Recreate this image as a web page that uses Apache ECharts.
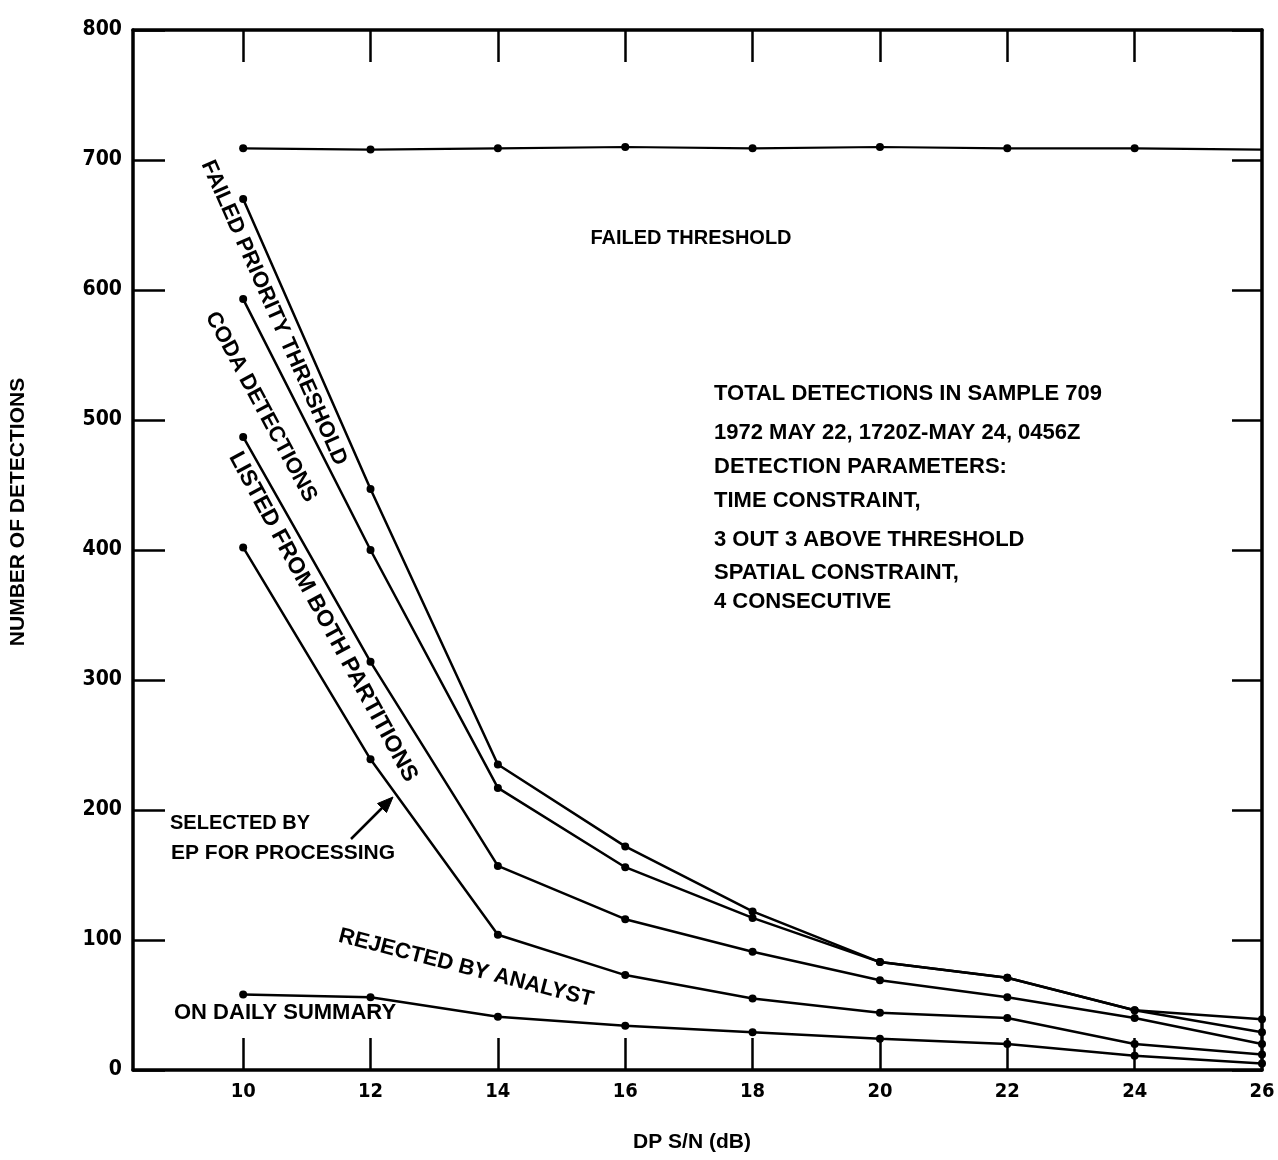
<!DOCTYPE html>
<html>
<head>
<meta charset="utf-8">
<script src="https://cdn.jsdelivr.net/npm/echarts@6/dist/echarts.min.js"></script>
<style>
html,body{margin:0;padding:0;background:#fff;}
#chart{width:1278px;height:1160px;}
</style>
</head>
<body>
<div id="chart"></div>
<script>
// ---- data ----
const snr = [10, 12, 14, 16, 18, 20, 22, 24, 26];
const xTickValues = [10, 12, 14, 16, 18, 20, 22, 24, 26];
const yTickLabels = ['0', '100', '200', '300', '400', '500', '600', '700', '800'];
const failedThreshold = [709, 708, 709, 710, 709, 710, 709, 709, 708];
const failedPriority  = [670, 447, 235, 172, 122, 83, 71, 46, 39];
const codaDetections  = [593, 400, 217, 156, 117, 83, 71, 46, 29];
const listedBoth      = [487, 314, 157, 116, 91, 69, 56, 40, 20];
const selectedByEP    = [402, 239, 104, 73, 55, 44, 40, 20, 12];
const dailySummary    = [58, 56, 41, 34, 29, 24, 20, 11, 5];

const noteLines = [
  'TOTAL DETECTIONS IN SAMPLE 709',
  '1972 MAY 22, 1720Z-MAY 24, 0456Z',
  'DETECTION PARAMETERS:',
  'TIME CONSTRAINT,',
  '3 OUT 3 ABOVE THRESHOLD',
  'SPATIAL CONSTRAINT,',
  '4 CONSECUTIVE'
];

const TXT = '"Liberation Sans", Arial, sans-serif';
const NARROW = '"Liberation Sans Narrow", "DejaVu Sans Condensed", "Liberation Sans", sans-serif';

function pairs(ys) { return snr.map((x, i) => [x, ys[i]]); }

function lineSeries(name, ys, opts) {
  return Object.assign({
    name: name,
    type: 'line',
    data: pairs(ys),
    symbol: 'circle',
    symbolSize: 8,
    clip: false,
    animation: false,
    lineStyle: { color: '#000', width: 2.5 },
    itemStyle: { color: '#000' },
    emphasis: { disabled: true }
  }, opts || {});
}

const chart = echarts.init(document.getElementById('chart'), null, { renderer: 'canvas' });

const xMin = 8.27, xMax = 26;
const tickInner = xTickValues.filter(v => v < xMax);

const axisLineStyle = { color: '#000', width: 3.5 };
const tickStyle = { color: '#000', width: 2.5 };

const topData = pairs(failedThreshold).map((p, i) =>
  i === snr.length - 1 ? { value: p, symbol: 'none' } : p);

const texts = [];
function addText(t, x, y, size, rotDeg, align) {
  texts.push({
    type: 'text',
    x: x, y: y,
    rotation: (rotDeg || 0) * Math.PI / 180,
    silent: true,
    style: {
      text: t,
      font: 'bold ' + size + 'px ' + TXT,
      fill: '#000',
      align: align || 'center',
      verticalAlign: 'middle'
    }
  });
}

addText('FAILED THRESHOLD', 691, 238, 20);
addText('FAILED PRIORITY THRESHOLD', 274, 313, 22, -66.1);
addText('CODA DETECTIONS', 261, 407, 22, -61.7);
addText('LISTED FROM BOTH PARTITIONS', 323, 617, 23, -61.5);
addText('SELECTED BY', 170, 823, 20, 0, 'left');
addText('EP FOR PROCESSING', 171, 853, 21, 0, 'left');
addText('REJECTED BY ANALYST', 466, 968, 22, -14.3);
addText('ON DAILY SUMMARY', 174, 1013, 22, 0, 'left');
addText('NUMBER OF DETECTIONS', 18, 512, 21, 90);
addText('DP S/N (dB)', 692, 1142, 21);

const noteY = [394, 433, 467, 501, 540, 573, 602];
noteLines.forEach((t, i) => addText(t, 714, noteY[i], 22, 0, 'left'));

// arrow pointing to the "selected" curve
texts.push({
  type: 'line', silent: true,
  shape: { x1: 351, y1: 839, x2: 384, y2: 806 },
  style: { stroke: '#000', lineWidth: 2.5 }
});
texts.push({
  type: 'polygon', silent: true,
  shape: { points: [[393, 797], [386.5, 812.5], [377.5, 803.5]] },
  style: { fill: '#000', stroke: '#000', lineWidth: 1 }
});

const option = {
  backgroundColor: '#fff',
  animation: false,
  grid: { left: 133, right: 16, top: 30, bottom: 90 },
  xAxis: [
    {
      type: 'value', position: 'bottom', min: xMin, max: xMax,
      axisLine: { onZero: false, lineStyle: axisLineStyle },
      axisTick: { inside: true, length: 32, lineStyle: tickStyle, customValues: tickInner },
      axisLabel: {
        customValues: xTickValues, color: '#000', fontWeight: 'bold',
        fontFamily: NARROW, fontSize: 20, margin: 12
      },
      splitLine: { show: false }
    },
    {
      type: 'value', position: 'top', min: xMin, max: xMax,
      axisLine: { onZero: false, lineStyle: axisLineStyle },
      axisTick: { inside: true, length: 32, lineStyle: tickStyle, customValues: tickInner },
      axisLabel: { show: false },
      splitLine: { show: false }
    }
  ],
  yAxis: [
    {
      type: 'value', position: 'left', min: 0, max: 800, interval: 100,
      axisLine: { onZero: false, lineStyle: axisLineStyle },
      axisTick: { inside: true, length: 32, lineStyle: tickStyle },
      axisLabel: {
        color: '#000', fontWeight: 'bold', fontFamily: NARROW, fontSize: 21, margin: 11,
        formatter: (v) => yTickLabels[Math.round(v / 100)]
      },
      splitLine: { show: false }
    },
    {
      type: 'value', position: 'right', min: 0, max: 800, interval: 100,
      axisLine: { onZero: false, lineStyle: axisLineStyle },
      axisTick: { inside: true, length: 30, lineStyle: tickStyle },
      axisLabel: { show: false },
      splitLine: { show: false }
    }
  ],
  series: [
    lineSeries('Failed threshold', failedThreshold, { data: topData, lineStyle: { color: '#000', width: 2.2 } }),
    lineSeries('Failed priority threshold', failedPriority),
    lineSeries('Coda detections', codaDetections),
    lineSeries('Listed from both partitions', listedBoth),
    lineSeries('Selected by EP for processing', selectedByEP),
    lineSeries('On daily summary', dailySummary)
  ],
  graphic: { elements: texts }
};

chart.setOption(option);
</script>
</body>
</html>
